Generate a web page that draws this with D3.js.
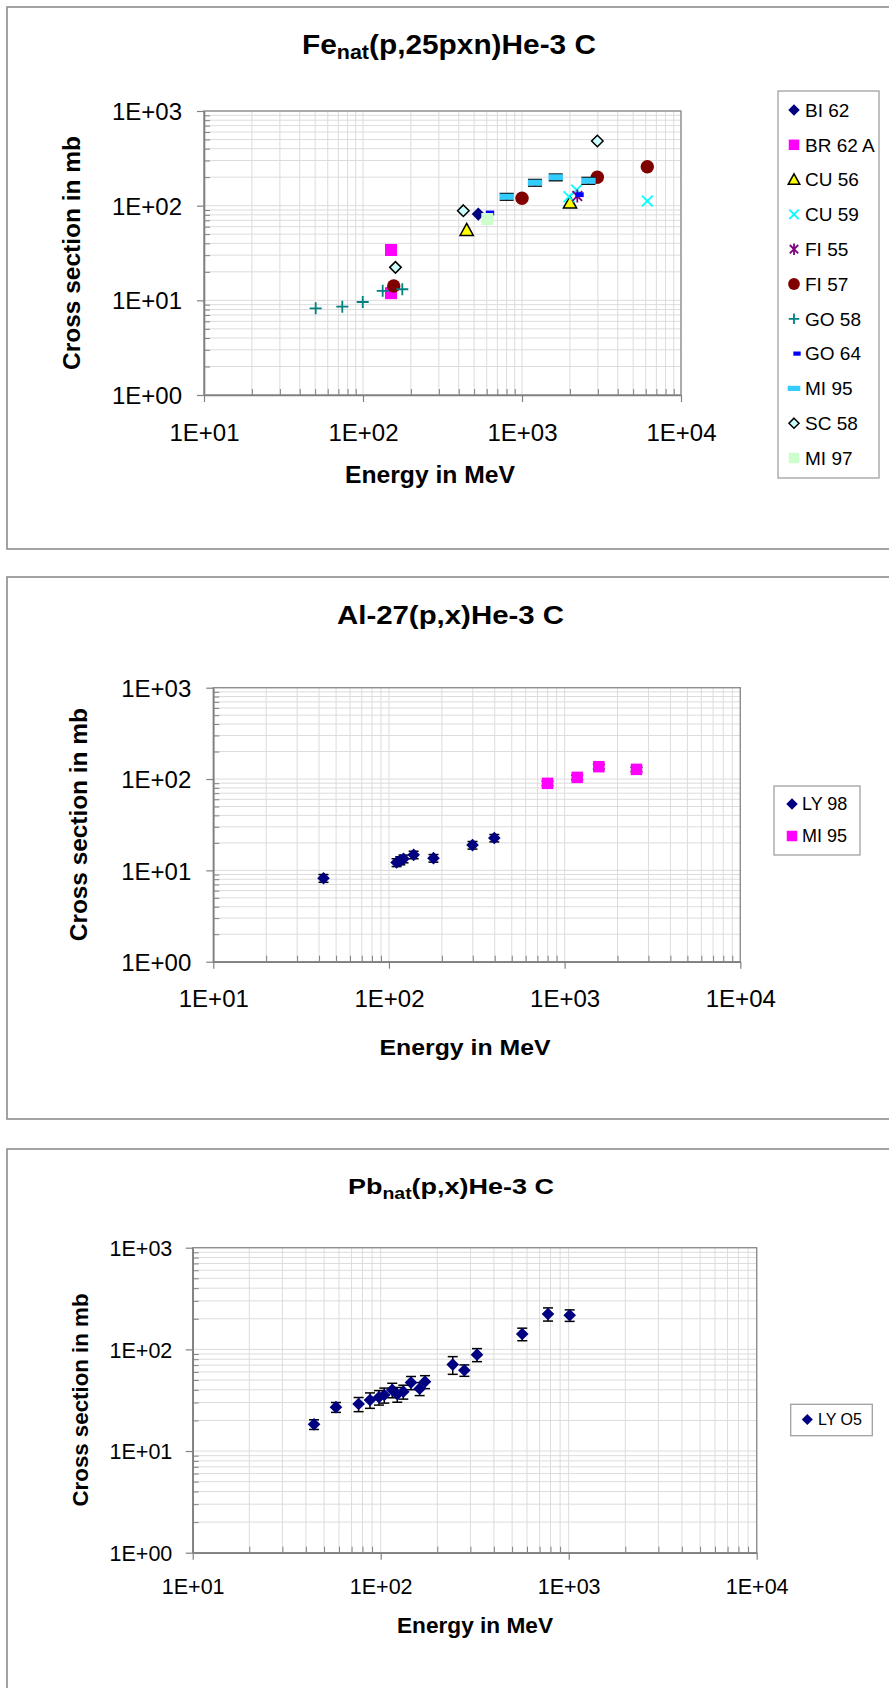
<!DOCTYPE html>
<html><head><meta charset="utf-8">
<script src="https://cdn.jsdelivr.net/npm/d3@7/dist/d3.min.js"></script>
<style>html,body{margin:0;padding:0;background:#fff;}svg{display:block;}</style>
</head><body>
<svg id="c" width="889" height="1688"></svg>
<script>
// ---------- shared axis data ----------
const xDomain = [10, 10000];
const yDomain = [1, 1000];
const xTickValues = [10, 100, 1000, 10000];
const xTickLabels = ["1E+01", "1E+02", "1E+03", "1E+04"];
const yTickValues = [1, 10, 100, 1000];
const yTickLabels = ["1E+00", "1E+01", "1E+02", "1E+03"];
const xAxisTitle = "Energy in MeV";
const yAxisTitle = "Cross section in mb";

// ---------- chart 1: Fe_nat(p,25pxn)He-3 C ----------
const feSeriesNames = ["BI 62", "BR 62 A", "CU 56", "CU 59", "FI 55", "FI 57", "GO 58", "GO 64", "MI 95", "SC 58", "MI 97"];
const bi62Energy = [531];                  const bi62Sigma = [81.6];
const br62aEnergy = [150, 150];            const br62aSigma = [34, 11.9];
const cu56Energy = [449, 2004];            const cu56Sigma = [55.3, 107.6];
const cu59Energy = [1976, 2203, 6138];     const cu59Sigma = [124, 146.5, 112];
const fi55Energy = [2228];                 const fi55Sigma = [126.5];
const fi57Energy = [156, 1000, 2977, 6138]; const fi57Sigma = [14.2, 119.6, 199.5, 258];
const go58Energy = [50.4, 74.1, 99.6, 133, 176.7]; const go58Sigma = [8.24, 8.57, 9.6, 12.6, 13.1];
const go64Energy = [629, 2300];            const go64Sigma = [83.7, 130.6];
const mi95FeEnergy = [801, 1207, 1630, 2617]; const mi95FeSigma = [124.4, 175, 199.5, 183.6]; const mi95FeErr = [10, 14, 16, 15];
const sc58Energy = [160, 427.6, 2977];     const sc58Sigma = [22.3, 88.5, 482];
const mi97Energy = [605];                  const mi97Sigma = [72.3];

// ---------- chart 2: Al-27(p,x)He-3 C ----------
const alSeriesNames = ["LY 98", "MI 95"];
const alLy98Energy = [42.4, 110.5, 116, 121, 138.2, 179.2, 299, 397.8];
const alLy98Sigma = [8.2, 12.2, 12.8, 13.4, 14.8, 13.6, 18.9, 22.6];
const alLy98Err = [0.8, 1.2, 1.3, 1.3, 1.4, 1.3, 1.8, 2.1];
const alMi95Energy = [799, 1179, 1566, 2565];
const alMi95Sigma = [89.7, 104.3, 136.5, 127.6];
const alMi95Err = [5, 6, 8, 7];

// ---------- chart 3: Pb_nat(p,x)He-3 C ----------
const pbSeriesNames = ["LY O5"];
const pbLy05Energy = [44.2, 57.8, 76.3, 87.7, 97.9, 104.5, 115.2, 122.5, 131.9, 144.9, 161.1, 172.0, 241.6, 278.6, 325.3, 566, 776, 1012];
const pbLy05Sigma = [18.3, 27.0, 29.0, 31.8, 33.8, 35.6, 39.9, 36.2, 38.4, 47.1, 41.1, 48.1, 70.8, 62.3, 88.7, 141.6, 222.8, 216.5];
const pbLy05Err = [2, 3, 4.6, 5.5, 5.5, 6, 6.5, 6, 6, 7, 6, 7, 14, 8, 13, 20, 33, 28];

// ---------- drawing ----------
const FONT = "'Liberation Sans', Arial, Helvetica, sans-serif";
const svg = d3.select("#c");

const SHAPES = {
  diamond: {d: "M0,-5.5L5.5,0L0,5.5L-5.5,0Z", filled: true},
  diamondS: {d: "M0,-4.8L4.8,0L0,4.8L-4.8,0Z", filled: true},
  square: {d: "M-5,-5H5V5H-5Z", filled: true},
  triangle: {d: "M0,-5.5L5.5,4.5L-5.5,4.5Z", filled: true},
  circle: {d: "M5.6,0A5.6,5.6,0,1,1,-5.6,0A5.6,5.6,0,1,1,5.6,0Z", filled: true},
  x: {d: "M-4.5,-4.5L4.5,4.5M4.5,-4.5L-4.5,4.5", filled: false},
  plus: {d: "M-5,0H5M0,-5V5", filled: false},
  star: {d: "M-4,-4L4,4M4,-4L-4,4M0,-5.5V5.5", filled: false},
  dashS: {d: "M-3.5,-2H3.5V2H-3.5Z", filled: true},
  dashL: {d: "M-6,-2.5H6V2.5H-6Z", filled: true}
};

function drawMarker(sel, s, k) {
  const sh = SHAPES[s.shape];
  const p = sel.append("path").attr("d", sh.d).attr("transform", `scale(${k})`);
  if (sh.filled) {
    p.attr("fill", s.color).attr("stroke", s.outline || "none").attr("stroke-width", s.outline ? 1.5 / k : 0)
     .attr("stroke-linejoin", "miter");
  } else {
    p.attr("fill", "none").attr("stroke", s.color).attr("stroke-width", 1.8 / k);
  }
  return p;
}

function styledTitle(g, parts, cx, cy, size, len, rotate) {
  const t = g.append("text")
    .attr("font-family", FONT).attr("font-weight", "bold").attr("font-size", size)
    .attr("text-anchor", "middle").attr("fill", "#000")
    .attr("textLength", len).attr("lengthAdjust", "spacingAndGlyphs");
  if (rotate) t.attr("transform", `translate(${cx},${cy}) rotate(-90)`);
  else t.attr("x", cx).attr("y", cy);
  let shifted = false;
  parts.forEach(p => {
    const ts = t.append("tspan").text(p.t);
    if (p.sub) { ts.attr("font-size", size * 0.72).attr("dy", size * 0.2); shifted = true; }
    else if (shifted) { ts.attr("dy", -size * 0.2); shifted = false; }
  });
  return t;
}

function drawChart(c) {
  const {l, t, r, b} = c.plot;
  const g = svg.append("g");
  g.append("rect").attr("x", c.frame.x).attr("y", c.frame.y).attr("width", c.frame.w).attr("height", c.frame.h)
    .attr("fill", "#fff").attr("stroke", "#8c8c8c").attr("stroke-width", 1.6);

  const x = d3.scaleLog().domain(xDomain).range([l, r]);
  const y = d3.scaleLog().domain(yDomain).range([b, t]);
  const gridX = x.ticks();
  const gridY = y.ticks();
  const isMajor = v => Math.abs(Math.log10(v) - Math.round(Math.log10(v))) < 1e-9;

  g.append("g").selectAll("line").data(gridX).join("line")
    .attr("x1", d => x(d)).attr("x2", d => x(d)).attr("y1", t).attr("y2", b)
    .attr("stroke", "#dcdcdc").attr("stroke-width", 1);
  g.append("g").selectAll("line").data(gridY).join("line")
    .attr("y1", d => y(d)).attr("y2", d => y(d)).attr("x1", l).attr("x2", r)
    .attr("stroke", "#dcdcdc").attr("stroke-width", 1);

  g.append("rect").attr("x", l).attr("y", t).attr("width", r - l).attr("height", b - t)
    .attr("fill", "none").attr("stroke", "#8f8f8f").attr("stroke-width", 1.4);

  // minor ticks (inside)
  g.append("g").attr("transform", `translate(0,${b})`)
    .call(d3.axisTop(x).tickValues(gridX.filter(d => !isMajor(d))).tickFormat("").tickSizeInner(6).tickSizeOuter(0))
    .call(s => s.select(".domain").remove())
    .selectAll("line").attr("stroke", "#808080").attr("stroke-width", 1);
  g.append("g").attr("transform", `translate(${l},0)`)
    .call(d3.axisRight(y).tickValues(gridY.filter(d => !isMajor(d))).tickFormat("").tickSizeInner(6).tickSizeOuter(0))
    .call(s => s.select(".domain").remove())
    .selectAll("line").attr("stroke", "#808080").attr("stroke-width", 1);

  // major axes
  const xa = g.append("g").attr("transform", `translate(0,${b})`)
    .call(d3.axisBottom(x).tickValues(xTickValues).tickFormat((d, i) => xTickLabels[i]).tickSizeInner(7).tickSizeOuter(0));
  xa.attr("font-family", FONT).attr("font-size", c.tickFont);
  xa.select(".domain").attr("stroke", "#808080").attr("stroke-width", 1.6);
  xa.selectAll(".tick line").attr("stroke", "#808080").attr("stroke-width", 1.2);
  xa.selectAll("text").attr("y", c.xTickBase - b).attr("dy", null).attr("fill", "#000");

  const ya = g.append("g").attr("transform", `translate(${l},0)`)
    .call(d3.axisLeft(y).tickValues(yTickValues).tickFormat((d, i) => yTickLabels[i]).tickSizeInner(7).tickSizeOuter(0));
  ya.attr("font-family", FONT).attr("font-size", c.tickFont);
  ya.select(".domain").attr("stroke", "#808080").attr("stroke-width", 1.6);
  ya.selectAll(".tick line").attr("stroke", "#808080").attr("stroke-width", 1.2);
  ya.selectAll("text").attr("x", -c.yLabelGap).attr("dy", "0.36em").attr("fill", "#000");

  // series
  const plotG = g.append("g");
  c.series.forEach(s => {
    const pts = s.E.map((e, i) => ({e, v: s.S[i], err: s.err ? s.err[i] : null}));
    if (s.err) {
      const eg = plotG.append("g").attr("stroke", "#000").attr("stroke-width", 1.5);
      pts.forEach(p => {
        const cx = x(p.e), y1 = y(p.v + p.err), y2 = y(p.v - p.err), hw = s.capW / 2;
        eg.append("line").attr("x1", cx).attr("x2", cx).attr("y1", y1).attr("y2", y2);
        eg.append("line").attr("x1", cx - hw).attr("x2", cx + hw).attr("y1", y1).attr("y2", y1);
        eg.append("line").attr("x1", cx - hw).attr("x2", cx + hw).attr("y1", y2).attr("y2", y2);
      });
    }
    pts.forEach(p => {
      const mg = plotG.append("g").attr("transform", `translate(${x(p.e)},${y(p.v)})`);
      drawMarker(mg, s, c.markerScale);
    });
  });

  // legend
  const L = c.legend;
  g.append("rect").attr("x", L.x).attr("y", L.y).attr("width", L.w).attr("height", L.h)
    .attr("fill", "#fff").attr("stroke", "#a0a0a0").attr("stroke-width", 1.3);
  c.series.forEach((s, i) => {
    const cy = L.row0 + i * L.dy;
    const mg = g.append("g").attr("transform", `translate(${L.mx + (s.legendDx || 0)},${cy})`);
    drawMarker(mg, s, L.markerScale);
    g.append("text").attr("x", L.tx).attr("y", cy).attr("dy", "0.36em")
      .attr("font-family", FONT).attr("font-size", L.font).attr("fill", "#000").text(s.name);
  });

  // titles
  styledTitle(g, c.title.parts, c.title.x, c.title.y, c.title.size, c.title.len, false);
  styledTitle(g, [{t: xAxisTitle}], c.xTitle.x, c.xTitle.y, c.xTitle.size, c.xTitle.len, false);
  styledTitle(g, [{t: yAxisTitle}], c.yTitle.x, c.yTitle.y, c.yTitle.size, c.yTitle.len, true);
}

// chart 1
drawChart({
  frame: {x: 7, y: 7, w: 890, h: 542},
  plot: {l: 204, t: 111, r: 681, b: 395},
  tickFont: 24, xTickBase: 441, yLabelGap: 22, markerScale: 1.2,
  title: {parts: [{t: "Fe"}, {t: "nat", sub: true}, {t: "(p,25pxn)He-3 C"}], x: 449, y: 54, size: 27, len: 294},
  xTitle: {x: 430, y: 483, size: 23, len: 170},
  yTitle: {x: 80, y: 253, size: 24.5, len: 234},
  legend: {x: 778, y: 91, w: 101, h: 387, row0: 110, dy: 34.8, mx: 794, tx: 805, font: 19, markerScale: 1.05},
  series: [
    {name: feSeriesNames[0], E: bi62Energy, S: bi62Sigma, shape: "diamond", color: "#000080"},
    {name: feSeriesNames[1], E: br62aEnergy, S: br62aSigma, shape: "square", color: "#FF00FF"},
    {name: feSeriesNames[2], E: cu56Energy, S: cu56Sigma, shape: "triangle", color: "#FFFF00", outline: "#000"},
    {name: feSeriesNames[3], E: cu59Energy, S: cu59Sigma, shape: "x", color: "#00FFFF"},
    {name: feSeriesNames[4], E: fi55Energy, S: fi55Sigma, shape: "star", color: "#800080"},
    {name: feSeriesNames[5], E: fi57Energy, S: fi57Sigma, shape: "circle", color: "#800000"},
    {name: feSeriesNames[6], E: go58Energy, S: go58Sigma, shape: "plus", color: "#008080"},
    {name: feSeriesNames[7], E: go64Energy, S: go64Sigma, shape: "dashS", color: "#0000FF", legendDx: 3},
    {name: feSeriesNames[8], E: mi95FeEnergy, S: mi95FeSigma, err: mi95FeErr, capW: 14, shape: "dashL", color: "#33CCFF"},
    {name: feSeriesNames[9], E: sc58Energy, S: sc58Sigma, shape: "diamondS", color: "#CCFFFF", outline: "#000"},
    {name: feSeriesNames[10], E: mi97Energy, S: mi97Sigma, shape: "square", color: "#CCFFCC"}
  ]
});

// chart 2
drawChart({
  frame: {x: 7, y: 577, w: 890, h: 542},
  plot: {l: 213.3, t: 687.7, r: 740.3, b: 961.7},
  tickFont: 24, xTickBase: 1007, yLabelGap: 22, markerScale: 1.15,
  title: {parts: [{t: "Al-27(p,x)He-3 C"}], x: 450.5, y: 624, size: 25, len: 227},
  xTitle: {x: 465, y: 1055, size: 22.5, len: 171},
  yTitle: {x: 86.5, y: 824.7, size: 24.5, len: 233},
  legend: {x: 774, y: 786, w: 86, h: 69, row0: 804, dy: 32, mx: 792, tx: 802, font: 18, markerScale: 1.05},
  series: [
    {name: alSeriesNames[0], E: alLy98Energy, S: alLy98Sigma, err: alLy98Err, capW: 10, shape: "diamond", color: "#000080"},
    {name: alSeriesNames[1], E: alMi95Energy, S: alMi95Sigma, err: alMi95Err, capW: 12, shape: "square", color: "#FF00FF"}
  ]
});

// chart 3
drawChart({
  frame: {x: 7, y: 1149, w: 890, h: 600},
  plot: {l: 192.7, t: 1247.7, r: 756.7, b: 1552.7},
  tickFont: 21.5, xTickBase: 1594, yLabelGap: 20.4, markerScale: 1.15,
  title: {parts: [{t: "Pb"}, {t: "nat", sub: true}, {t: "(p,x)He-3 C"}], x: 451, y: 1194, size: 22.5, len: 206},
  xTitle: {x: 475, y: 1633, size: 22, len: 156},
  yTitle: {x: 88, y: 1400, size: 22.5, len: 213},
  legend: {x: 790.7, y: 1404.3, w: 81.6, h: 31.4, row0: 1419.5, dy: 30, mx: 807.3, tx: 818, font: 16, markerScale: 1.0},
  series: [
    {name: pbSeriesNames[0], E: pbLy05Energy, S: pbLy05Sigma, err: pbLy05Err, capW: 10, shape: "diamond", color: "#000080"}
  ]
});
</script>
</body></html>
